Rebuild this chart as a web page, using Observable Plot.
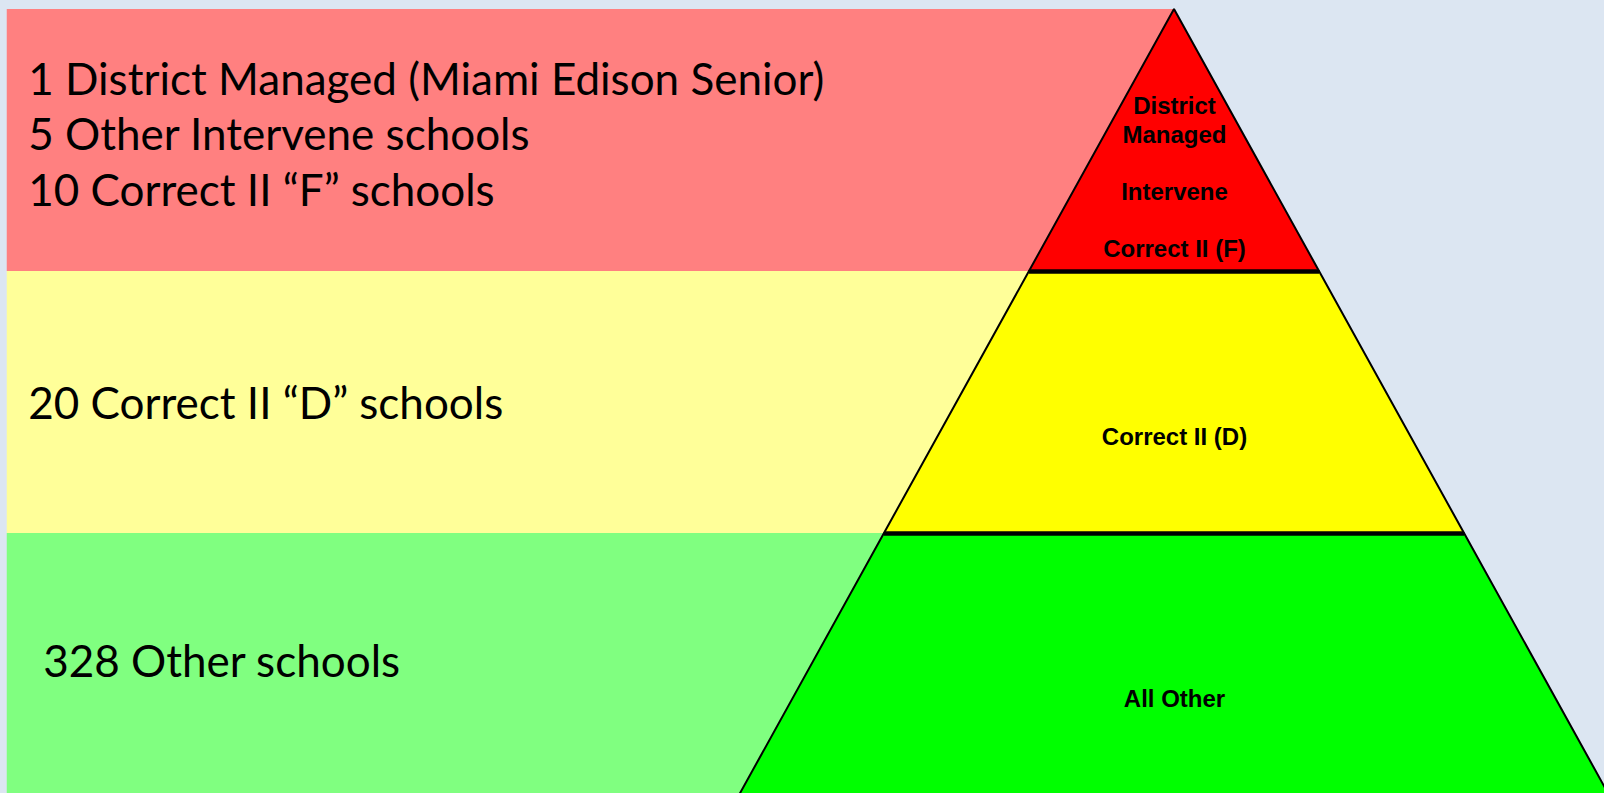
<!DOCTYPE html>
<html>
<head>
<meta charset="utf-8">
<script src="https://cdn.jsdelivr.net/npm/d3@7"></script>
<script src="https://cdn.jsdelivr.net/npm/@observablehq/plot@0.6"></script>
<style>
  html, body { margin: 0; padding: 0; background: #dce6f2; }
  #chart svg { display: block; background: #dce6f2; }
</style>
</head>
<body>
<div id="chart"></div>
<script>
// ---- data ----
const tierIndex = [0, 1, 2];
const pyramidLabels = ["District\nManaged\n\nIntervene\n\nCorrect II (F)", "Correct II (D)", "All Other"];
const schoolLines = [
  ["1 District Managed (Miami Edison Senior)", "5 Other Intervene schools", "10 Correct II “F” schools"],
  ["20 Correct II “D” schools"],
  ["328 Other schools"]
];
const tierFill = ["#ff0000", "#ffff00", "#00ff00"];
const bandFill = ["#ff8080", "#ffff99", "#80ff80"];

// ---- layout ----
const W = 1604, H = 793;
const bandLeft = -8.05;            // band left edge, in pyramid half-width units
const tiers = tierIndex.map(i => ({i, label: pyramidLabels[i], lines: schoolLines[i], fill: tierFill[i], band: bandFill[i]}));
const pyramidPts = tiers.flatMap(t => [t.i, t.i + 1].map(y => ({tier: t.i, y, fill: t.fill})));

const leftFont = "Lato, 'Open Sans', sans-serif";
const leftText = (filter, dx, dy) => Plot.text(tiers, {
  filter, x: () => bandLeft, y: d => d.i + 0.5, text: d => d.lines.join("\n"),
  textAnchor: "start", dx, dy, fontSize: 44, lineHeight: 1.27, fill: "black", fontFamily: leftFont
});
const pyrText = (filter, dy) => Plot.text(tiers, {
  filter, x: () => 0, y: d => d.i + 0.5, text: "label", dy,
  fontSize: 24, fontWeight: "bold", lineHeight: 1.19, fill: "black",
  fontFamily: "'Liberation Sans', Arial, sans-serif"
});

const chart = Plot.plot({
  width: W, height: H,
  margin: 0,
  x: {domain: [-1174 / 145, (W - 1174) / 145], range: [0, W], axis: null},
  y: {domain: [0, 3], range: [9, 795], axis: null},
  color: {type: "identity"},
  style: {background: "#dce6f2", overflow: "hidden"},
  marks: [
    Plot.rect(tiers, {x1: () => bandLeft, x2: () => 0, y1: d => d.i, y2: d => d.i + 1, fill: "band"}),
    Plot.areaX(pyramidPts, {y: "y", x1: d => -d.y, x2: d => d.y, z: "tier", fill: "fill",
      stroke: "black", strokeWidth: 2, strokeLinejoin: "miter"}),
    Plot.ruleY([1, 2], {x1: d => -d, x2: d => d, stroke: "black", strokeWidth: 4.5}),
    leftText(d => d.i === 0, 21, -8),
    leftText(d => d.i === 1, 21, -1),
    leftText(d => d.i === 2, 36, -5),
    pyrText(d => d.i === 0, 36),
    pyrText(d => d.i > 0, 33)
  ]
});
document.getElementById("chart").appendChild(chart);
</script>
</body>
</html>
